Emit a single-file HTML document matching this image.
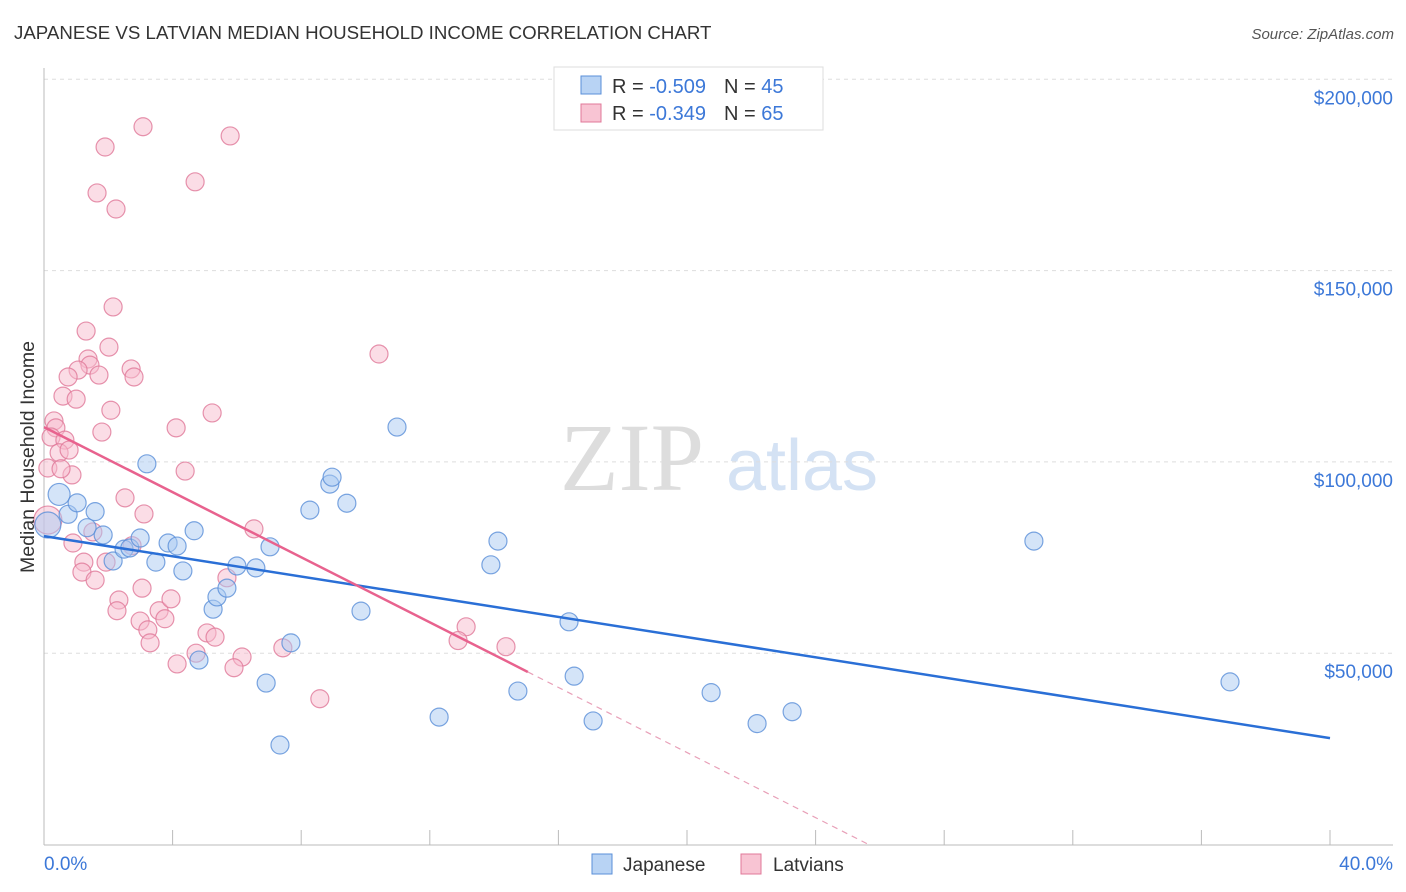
<!DOCTYPE html>
<html><head><meta charset="utf-8"><style>
body{margin:0;background:#fff;font-family:"Liberation Sans",sans-serif;}
svg{display:block}
</style></head><body>
<svg id="chart" width="1406" height="892" xmlns="http://www.w3.org/2000/svg">
<text x="14" y="39" font-size="18.7" fill="#333" font-family="Liberation Sans">JAPANESE VS LATVIAN MEDIAN HOUSEHOLD INCOME CORRELATION CHART</text>
<text x="1394" y="39" font-size="15" fill="#555" font-style="italic" text-anchor="end">Source: ZipAtlas.com</text>
<g>
<text x="632" y="490" font-size="96" fill="#ddd" font-family="Liberation Serif" text-anchor="middle">ZIP</text>
<text x="802" y="490" font-size="72" fill="#d4e2f4" text-anchor="middle">atlas</text>
</g>
<g id="grid"></g>
<g id="axes"></g>
<g id="points"></g>
<g id="trends"></g>
<text transform="translate(34,457) rotate(-90)" font-size="19.5" fill="#333" text-anchor="middle">Median Household Income</text>
<g>
<rect x="554" y="67" width="269" height="63" fill="#fff" stroke="#ddd"/>
<rect x="581" y="76" width="20" height="18" fill="#b8d3f4" stroke="#5a8fd8"/>
<rect x="581" y="104" width="20" height="18" fill="#f8c4d3" stroke="#e07898"/>
<text x="612" y="93" font-size="20" fill="#333">R = <tspan fill="#3c78d8">-0.509</tspan><tspan dx="18">N = </tspan><tspan fill="#3c78d8">45</tspan></text>
<text x="612" y="120" font-size="20" fill="#333">R = <tspan fill="#3c78d8">-0.349</tspan><tspan dx="18">N = </tspan><tspan fill="#3c78d8">65</tspan></text>
</g>
<g>
<rect x="592" y="854" width="20" height="20" fill="#b8d3f4" stroke="#5a8fd8"/>
<text x="623" y="871" font-size="19" fill="#333">Japanese</text>
<rect x="741" y="854" width="20" height="20" fill="#f8c4d3" stroke="#e07898"/>
<text x="773" y="871" font-size="19" fill="#333">Latvians</text>
</g>
</svg>
<script>
const jpX=[0.47,0.75,1.03,1.59,1.34,1.84,2.15,2.49,2.67,2.99,3.20,3.48,3.86,4.14,4.32,4.67,4.82,5.26,5.38,5.69,6.00,6.59,7.03,6.91,7.34,7.68,8.27,8.89,8.96,9.42,9.86,10.98,12.29,13.90,14.12,14.74,16.33,16.49,17.08,20.75,22.18,23.27,30.79,36.89,0.12];
const jpY=[91.5,86.3,89.3,87.0,82.8,80.9,74.1,77.2,77.5,80.1,99.5,73.8,78.8,78.0,71.5,82.0,48.2,61.5,64.7,67.0,72.8,72.3,77.8,42.2,26.0,52.7,87.4,94.2,96.0,89.2,61.0,109.1,33.3,73.1,79.3,40.1,58.2,44.0,32.3,39.7,31.6,34.7,79.3,42.5,83.5];
const lvX=[3.08,5.79,1.90,4.70,1.65,2.24,2.15,1.31,2.02,1.37,1.43,1.71,2.71,2.80,1.06,0.75,0.59,1.00,2.08,10.42,5.23,0.31,0.37,0.22,0.65,1.80,4.11,0.47,0.78,0.87,4.39,0.12,0.53,2.52,3.11,6.53,0.90,1.52,2.74,1.24,1.93,1.18,1.59,5.69,2.33,3.05,2.27,3.58,3.95,2.99,3.76,3.23,3.30,5.07,5.32,4.73,6.16,7.43,4.14,5.91,8.58,13.13,12.88,14.37,0.12];
const lvY=[187.6,185.2,182.3,173.2,170.3,166.1,140.5,134.2,130.0,126.9,125.3,122.7,124.3,122.2,124.0,122.2,117.2,116.4,113.5,128.2,112.8,110.7,108.9,106.5,105.7,107.8,108.9,102.4,103.1,96.6,97.6,98.4,98.2,90.6,86.4,82.5,78.8,81.7,78.1,73.8,73.8,71.2,69.1,69.7,63.9,67.0,61.1,61.1,64.2,58.4,59.0,56.1,52.7,55.3,54.2,50.0,49.0,51.4,47.2,46.2,38.1,56.9,53.3,51.7,84.8];
const yTicks=[50,100,150,200];
const yTickLabels=["$50,000","$100,000","$150,000","$200,000"];
const jpTrend=[[0,80.6],[40,27.8]];
const lvTrend=[[0,109.1],[15.05,45.1]];
const lvTrendDash=[[15.05,45.1],[25.65,0]];
const NS="http://www.w3.org/2000/svg";
const sx=v=>44+v*32.15, sy=v=>844.5-v*3.826;
function mk(t,a,p){const e=document.createElementNS(NS,t);for(const k in a)e.setAttribute(k,a[k]);p.appendChild(e);return e;}
const grid=document.getElementById('grid'),axes=document.getElementById('axes'),pts=document.getElementById('points'),tr=document.getElementById('trends');
yTicks.forEach((t,i)=>{
 const l=mk('line',{x1:44,x2:1393,y1:sy(t),y2:sy(t),stroke:'#ddd','stroke-dasharray':'4,4'},grid);
 
 
 const tx=mk('text',{x:1393,y:sy(t)+25,'font-size':19,fill:'#3c78d8','text-anchor':'end'},grid);
 tx.textContent=yTickLabels[i];
 
 
});
const ya=mk('line',{x1:44,x2:44,y1:68,y2:845,stroke:'#bbb'},axes);


const xa=mk('line',{x1:44,x2:1393,y1:845,y2:845,stroke:'#bbb'},axes);


for(let v=0;v<=40;v+=4){const t=mk('line',{x1:sx(v),x2:sx(v),y1:830,y2:845,stroke:'#bbb'},axes);
 
 }
const x0=mk('text',{x:44,y:870,'font-size':19,fill:'#3c78d8'},axes);x0.textContent='0.0%';


const x1=mk('text',{x:1393,y:870,'font-size':19,fill:'#3c78d8','text-anchor':'end'},axes);x1.textContent='40.0%';


function dots(X,Y,fill,stroke,name,bigIdx,bigR,midIdx){X.forEach((x,i)=>{
 const r=(i===bigIdx)?bigR:(i===midIdx?11:9);
 const c=mk('circle',{cx:sx(x),cy:sy(Y[i]),r:r,fill:fill,'fill-opacity':0.5,stroke:stroke,'stroke-width':1.2,'stroke-opacity':0.8},pts);
 
 
});}
dots(lvX,lvY,'#f8bccd','#e07898','latvian-point',lvX.length-1,14,-1);
dots(jpX,jpY,'#aac9f2','#5a8fd8','japanese-point',jpX.length-1,13,0);
function line(p,col,w,dash,name){const l=mk('line',{x1:sx(p[0][0]),y1:sy(p[0][1]),x2:sx(p[1][0]),y2:sy(p[1][1]),stroke:col,'stroke-width':w},tr);
 if(dash)l.setAttribute('stroke-dasharray',dash);
 
 }
line(jpTrend,'#2a6fd6',2.5,null,'japanese-trend-line');
line(lvTrend,'#e8628e',2.5,null,'latvian-trend-line');
line(lvTrendDash,'#e8a0b8',1.2,'6,5','latvian-trend-extension');
</script>
</body></html>
